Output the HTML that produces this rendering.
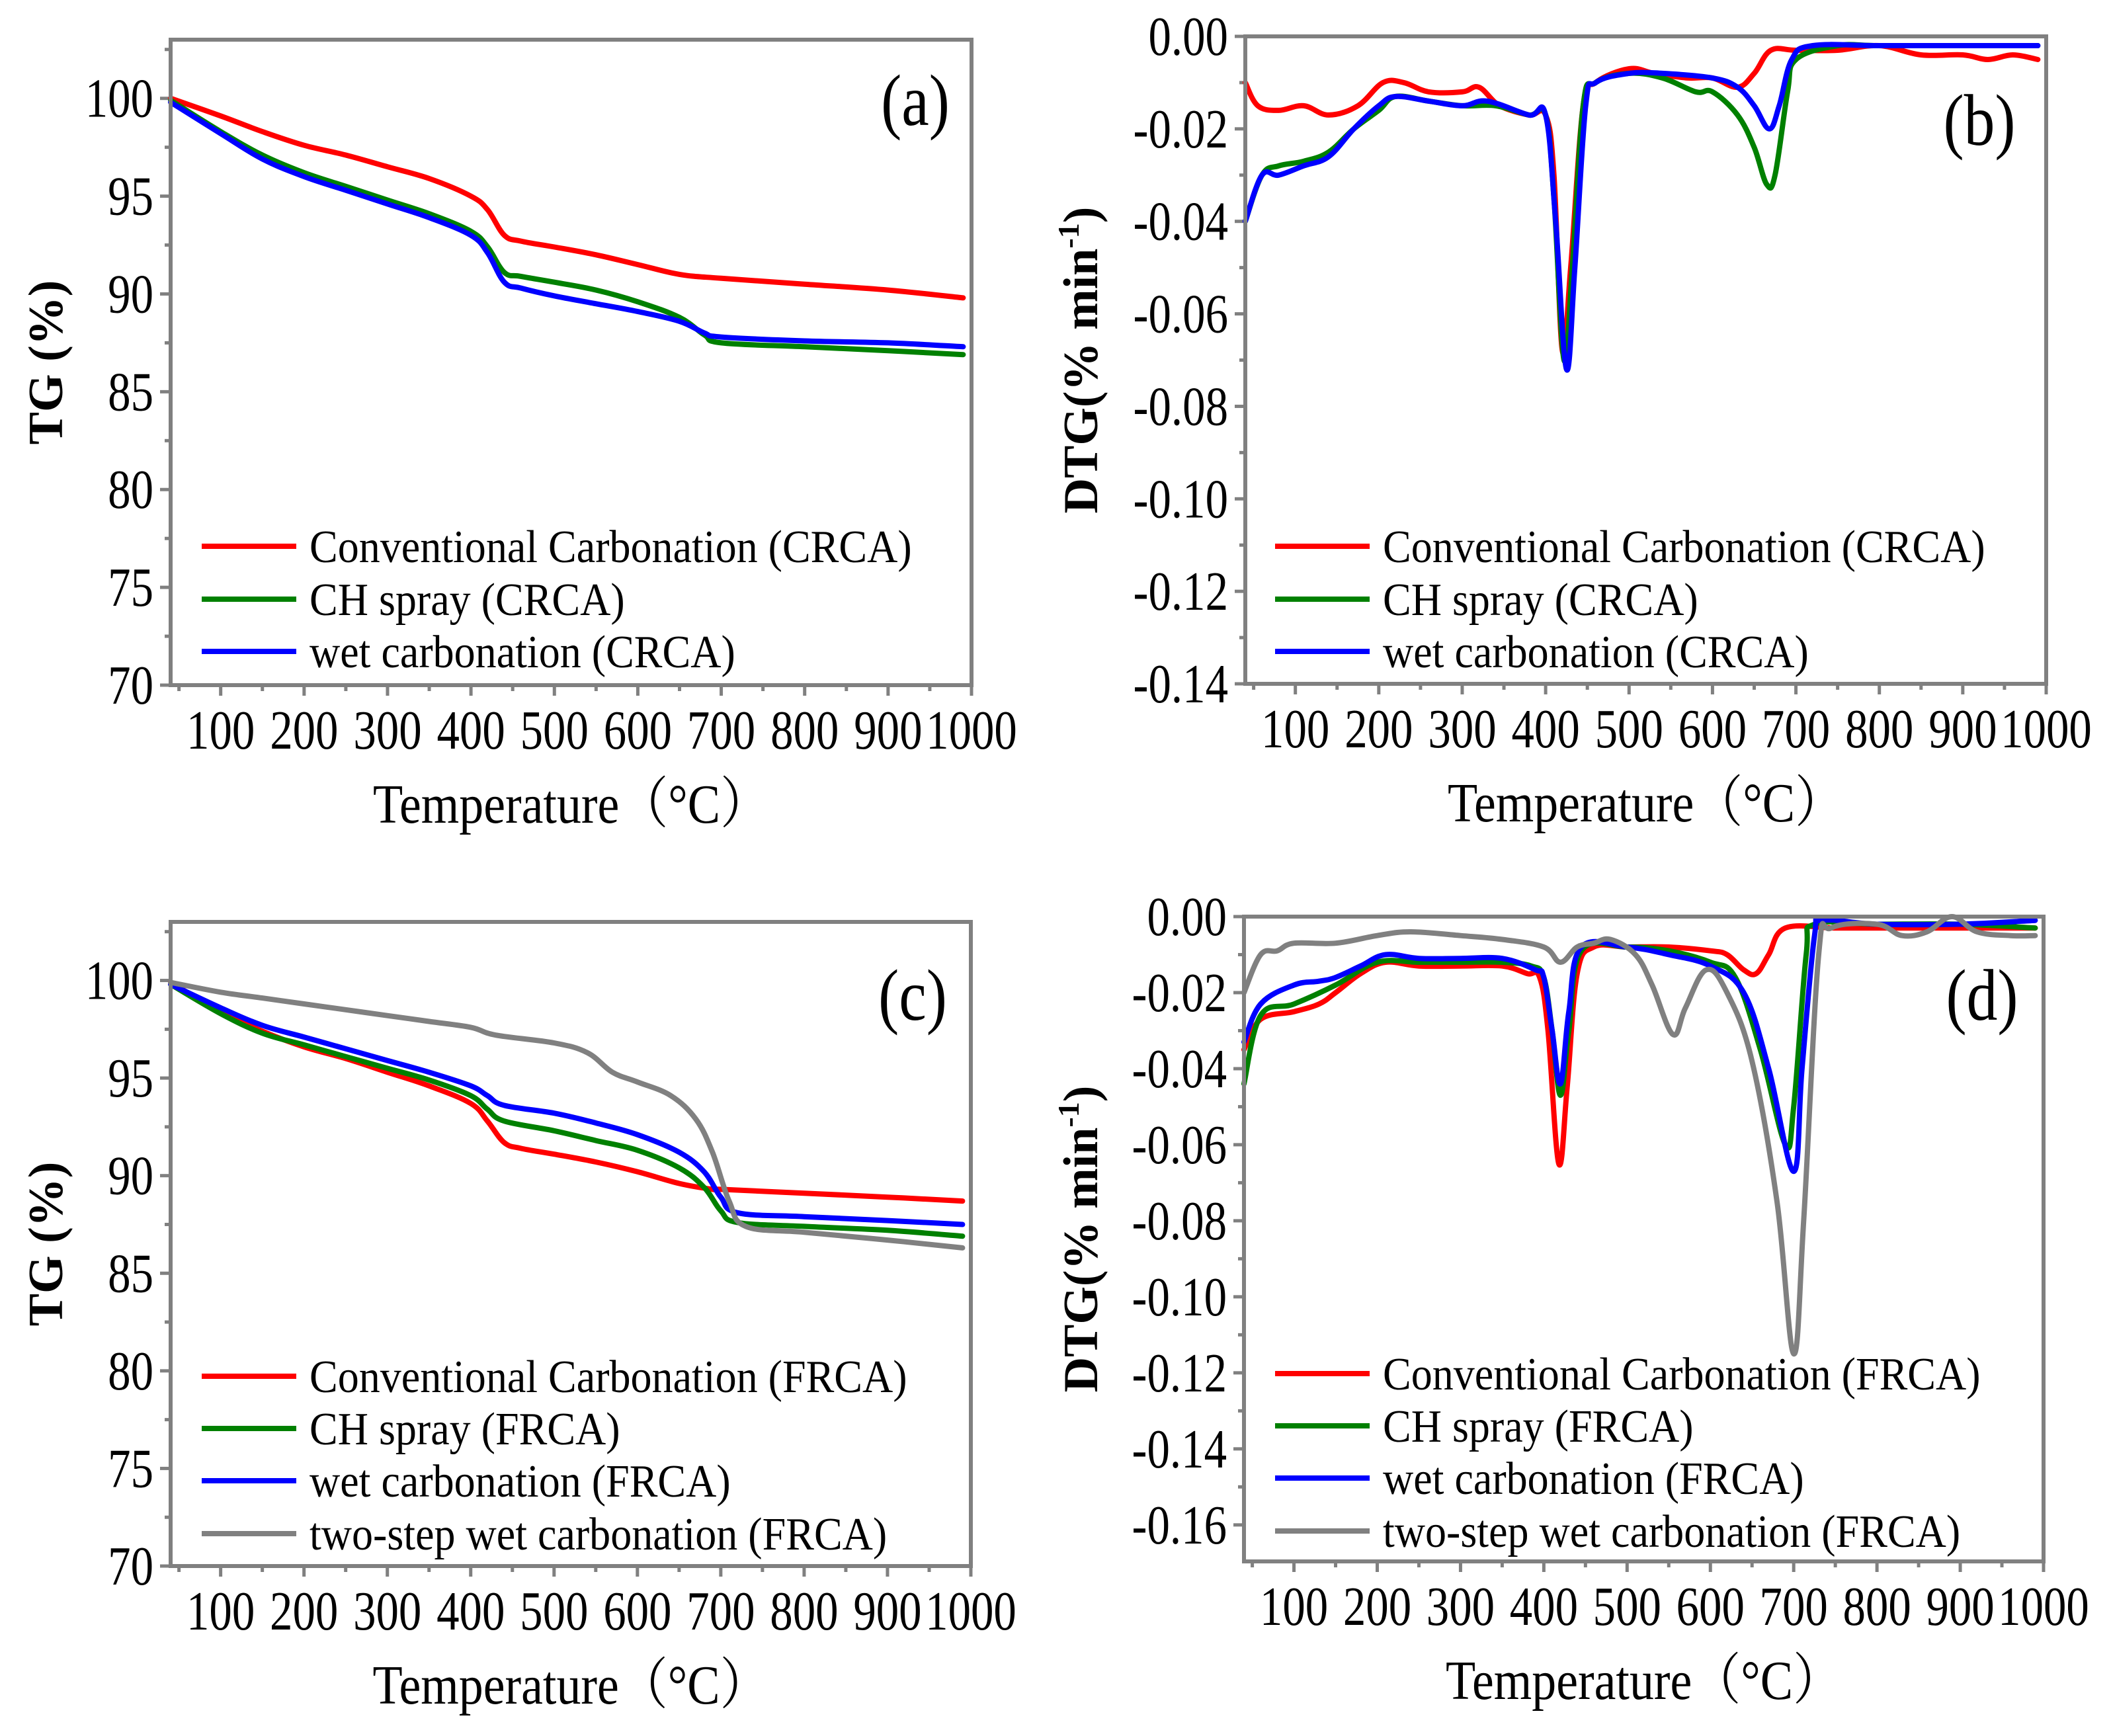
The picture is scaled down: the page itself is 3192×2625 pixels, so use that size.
<!DOCTYPE html>
<html><head><meta charset="utf-8">
<style>
html,body{margin:0;padding:0;background:#fff;}
svg{display:block;font-family:"Liberation Serif","Noto Serif CJK SC",serif;}
</style></head>
<body>
<svg id="fig" width="3192" height="2625" viewBox="0 0 3192 2625" xmlns="http://www.w3.org/2000/svg"></svg>
<script>
// ---- data (temperature °C, value) ----
const aConvT=[40,100,150,200,250,300,350,400,420,440,460,500,550,600,650,700,800,900,990];
const aConvV=[100,99.1,98.3,97.6,97.1,96.5,95.9,95.0,94.3,93.0,92.7,92.4,92.0,91.5,91.0,90.8,90.5,90.2,89.8];
const aCHT=[40,100,150,200,250,300,350,400,420,440,460,500,550,600,650,680,700,800,900,990];
const aCHV=[99.9,98.3,97.1,96.2,95.5,94.8,94.1,93.2,92.4,91.1,90.9,90.6,90.2,89.6,88.8,87.9,87.5,87.3,87.1,86.9];
const aWetT=[40,100,150,200,250,300,350,400,420,440,460,500,550,600,650,680,700,800,900,990];
const aWetV=[99.8,98.2,96.9,96.0,95.3,94.6,93.9,93.0,92.1,90.6,90.3,89.9,89.5,89.1,88.6,88.0,87.8,87.6,87.5,87.3];

const cConvT=[40,100,150,200,250,300,350,400,420,440,460,500,550,600,650,690,700,800,900,990];
const cConvV=[99.9,98.4,97.4,96.6,96.0,95.3,94.6,93.7,92.8,91.7,91.4,91.1,90.7,90.2,89.6,89.3,89.3,89.1,88.9,88.7];
const cCHT=[40,100,150,200,250,300,350,400,420,440,500,550,600,650,680,700,720,800,900,990];
const cCHV=[99.8,98.3,97.3,96.7,96.1,95.5,94.9,94.1,93.4,92.8,92.3,91.8,91.3,90.4,89.4,88.2,87.6,87.4,87.2,86.9];
const cWetT=[40,100,150,200,250,300,350,400,420,440,500,550,600,650,680,700,720,800,900,990];
const cWetV=[99.8,98.6,97.7,97.1,96.5,95.9,95.3,94.6,94.1,93.6,93.2,92.7,92.1,91.2,90.2,88.9,88.1,87.9,87.7,87.5];
const cTwoT=[40,100,150,200,250,300,350,400,430,500,540,570,600,640,670,690,710,730,800,900,990];
const cTwoV=[99.9,99.4,99.1,98.8,98.5,98.2,97.9,97.6,97.2,96.8,96.3,95.3,94.8,94.1,92.9,91.2,88.7,87.4,87.1,86.7,86.3];

const bConvT=[40,55,80,110,140,175,205,230,260,300,320,345,380,400,410,420,430,445,460,500,530,570,600,630,650,670,700,750,800,850,900,930,960,990];
const bConvV=[-0.010,-0.015,-0.016,-0.015,-0.017,-0.015,-0.010,-0.010,-0.012,-0.012,-0.011,-0.015,-0.017,-0.017,-0.030,-0.068,-0.050,-0.015,-0.010,-0.007,-0.008,-0.009,-0.009,-0.011,-0.008,-0.003,-0.003,-0.003,-0.002,-0.004,-0.004,-0.005,-0.004,-0.005];
const bCHT=[40,60,80,110,140,170,200,220,260,300,340,380,400,410,422,432,445,460,500,540,580,600,630,650,665,675,690,700,750,800,900,990];
const bCHV=[-0.040,-0.030,-0.028,-0.027,-0.025,-0.020,-0.016,-0.013,-0.014,-0.015,-0.015,-0.017,-0.017,-0.035,-0.070,-0.050,-0.015,-0.010,-0.008,-0.009,-0.012,-0.012,-0.017,-0.024,-0.032,-0.030,-0.012,-0.005,-0.002,-0.002,-0.002,-0.002];
const bWetT=[40,60,80,110,140,170,200,220,260,300,330,380,400,412,425,435,448,460,500,540,600,630,650,668,680,695,720,800,900,990];
const bWetV=[-0.040,-0.030,-0.030,-0.028,-0.026,-0.020,-0.015,-0.013,-0.014,-0.015,-0.014,-0.017,-0.017,-0.040,-0.072,-0.050,-0.015,-0.010,-0.008,-0.008,-0.009,-0.011,-0.015,-0.020,-0.015,-0.005,-0.002,-0.002,-0.002,-0.002];

const dConvT=[40,60,100,130,150,180,210,250,300,350,380,395,405,418,428,440,460,500,550,600,620,640,655,670,690,750,800,900,990];
const dConvV=[-0.035,-0.027,-0.025,-0.023,-0.020,-0.015,-0.012,-0.013,-0.013,-0.013,-0.015,-0.016,-0.030,-0.065,-0.045,-0.015,-0.008,-0.008,-0.008,-0.009,-0.010,-0.014,-0.015,-0.010,-0.003,-0.003,-0.003,-0.003,-0.003];
const dCHT=[40,60,100,150,200,250,300,350,385,400,410,420,430,445,500,550,600,630,660,690,700,715,725,800,900,990];
const dCHV=[-0.044,-0.026,-0.023,-0.018,-0.012,-0.012,-0.012,-0.012,-0.013,-0.016,-0.030,-0.047,-0.030,-0.009,-0.008,-0.009,-0.012,-0.016,-0.035,-0.060,-0.050,-0.010,-0.002,-0.002,-0.002,-0.003];
const dWetT=[40,60,100,130,150,180,210,250,300,350,390,400,410,420,430,445,500,550,600,640,670,700,710,725,735,800,900,990];
const dWetV=[-0.033,-0.023,-0.018,-0.017,-0.016,-0.013,-0.010,-0.011,-0.011,-0.011,-0.014,-0.016,-0.030,-0.044,-0.025,-0.008,-0.008,-0.010,-0.013,-0.020,-0.040,-0.067,-0.040,-0.005,-0.001,-0.002,-0.002,-0.001];
const dTwoT=[40,60,80,100,150,200,240,300,350,400,420,440,460,480,510,530,555,570,595,620,650,680,700,712,730,745,800,830,860,890,920,960,990];
const dTwoV=[-0.020,-0.010,-0.009,-0.007,-0.007,-0.005,-0.004,-0.005,-0.006,-0.008,-0.012,-0.008,-0.007,-0.006,-0.010,-0.018,-0.031,-0.024,-0.014,-0.020,-0.038,-0.075,-0.115,-0.080,-0.010,-0.003,-0.002,-0.005,-0.004,0.000,-0.004,-0.005,-0.005];

const xTicks=[100,200,300,400,500,600,700,800,900,1000];
const tgTicks=[70,75,80,85,90,95,100];
const bTicks=[0,-0.02,-0.04,-0.06,-0.08,-0.10,-0.12,-0.14];
const dTicks=[0,-0.02,-0.04,-0.06,-0.08,-0.10,-0.12,-0.14,-0.16];

const RED='#ff0000',GREEN='#008000',BLUE='#0000ff',GRAY='#808080';
const svg=document.getElementById('fig');
const NS='http://www.w3.org/2000/svg';
function mk(tag,attrs,parent){const e=document.createElementNS(NS,tag);for(const k in attrs)e.setAttribute(k,attrs[k]);(parent||svg).appendChild(e);return e;}
function smooth(pts){
  let d='M'+pts[0][0].toFixed(1)+','+pts[0][1].toFixed(1);
  for(let i=0;i<pts.length-1;i++){
    const p0=pts[Math.max(0,i-1)],p1=pts[i],p2=pts[i+1],p3=pts[Math.min(pts.length-1,i+2)];
    const t=0.18;
    const c1=[p1[0]+(p2[0]-p0[0])*t,p1[1]+(p2[1]-p0[1])*t];
    const c2=[p2[0]-(p3[0]-p1[0])*t,p2[1]-(p3[1]-p1[1])*t];
    d+=' C'+c1[0].toFixed(1)+','+c1[1].toFixed(1)+' '+c2[0].toFixed(1)+','+c2[1].toFixed(1)+' '+p2[0].toFixed(1)+','+p2[1].toFixed(1);
  }
  return d;
}

const panels=[
 {id:'a',L:258,R:1469,T:60,B:1036,ymin:70,ymax:103,ticks:tgTicks,minor:2.5,fmt:v=>String(v),ylabel:'TG (%)',ylx:70,tag:'(a)',tagx:1384,tagy:153,
  series:[[aConvT,aConvV,RED,'Conventional Carbonation (CRCA)'],[aCHT,aCHV,GREEN,'CH spray (CRCA)'],[aWetT,aWetV,BLUE,'wet carbonation (CRCA)']],
  legX:305,legY:[826,906,985]},
 {id:'b',L:1883,R:3094,T:55,B:1034,ymin:-0.14,ymax:0,ticks:bTicks,minor:0.01,fmt:v=>v===0?'0.00':v.toFixed(2),ylabel:'DTG(% min',ylx:1635,tag:'(b)',tagx:2993,tagy:183,
  series:[[bConvT,bConvV,RED,'Conventional Carbonation (CRCA)'],[bCHT,bCHV,GREEN,'CH spray (CRCA)'],[bWetT,bWetV,BLUE,'wet carbonation (CRCA)']],
  legX:1928,legY:[826,906,985]},
 {id:'c',L:258,R:1468,T:1394,B:2368,ymin:70,ymax:103,ticks:tgTicks,minor:2.5,fmt:v=>String(v),ylabel:'TG (%)',ylx:70,tag:'(c)',tagx:1380,tagy:1506,
  series:[[cConvT,cConvV,RED,'Conventional Carbonation (FRCA)'],[cCHT,cCHV,GREEN,'CH spray (FRCA)'],[cWetT,cWetV,BLUE,'wet carbonation (FRCA)'],[cTwoT,cTwoV,GRAY,'two-step wet carbonation (FRCA)']],
  legX:305,legY:[2081,2160,2239,2319]},
 {id:'d',L:1881,R:3090,T:1386,B:2361,ymin:-0.1696,ymax:0,ticks:dTicks,minor:0.01,fmt:v=>v===0?'0.00':v.toFixed(2),ylabel:'DTG(% min',ylx:1635,tag:'(d)',tagx:2997,tagy:1506,
  series:[[dConvT,dConvV,RED,'Conventional Carbonation (FRCA)'],[dCHT,dCHV,GREEN,'CH spray (FRCA)'],[dWetT,dWetV,BLUE,'wet carbonation (FRCA)'],[dTwoT,dTwoV,GRAY,'two-step wet carbonation (FRCA)']],
  legX:1928,legY:[2077,2156,2235,2315]}
];

panels.forEach(p=>{
  const g=mk('g',{});
  
  
  const X=t=>p.L+(t-40)/(1000-40)*(p.R-p.L);
  const Y=v=>p.B-(v-p.ymin)/(p.ymax-p.ymin)*(p.B-p.T);
  const tg=mk('g',{stroke:'#808080','stroke-width':5},g);
  
  
  xTicks.forEach(t=>{mk('line',{x1:X(t),x2:X(t),y1:p.B,y2:p.B+16},tg);
    const m=t-50; if(m>=40) mk('line',{x1:X(m),x2:X(m),y1:p.B,y2:p.B+9},tg);});
  p.ticks.forEach(v=>{mk('line',{x1:p.L-16,x2:p.L,y1:Y(v),y2:Y(v)},tg);
    const m=v+p.minor; if(m<=p.ymax) mk('line',{x1:p.L-9,x2:p.L,y1:Y(m),y2:Y(m)},tg);});
  xTicks.forEach(t=>{const e=mk('text',{x:0,y:0,'font-size':84,'text-anchor':'middle',fill:'#000',transform:`translate(${X(t)},${p.B+96}) scale(0.82,1)`},g);e.textContent=String(t);
    });
  p.ticks.forEach(v=>{const e=mk('text',{x:0,y:0,'font-size':84,'text-anchor':'end',fill:'#000',transform:`translate(${p.L-26},${Y(v)+28}) scale(0.82,1)`},g);e.textContent=p.fmt(v);
    });
  const xt=mk('text',{x:0,y:0,'font-size':84,'text-anchor':'middle',fill:'#000',transform:`translate(${(p.L+p.R)/2},${p.B+208}) scale(0.88,1)`},g);
  xt.textContent='Temperature（°C）';
  
  
  const cy=(p.T+p.B)/2;
  const yt=mk('text',{x:0,y:0,'font-size':74,'font-weight':'bold','text-anchor':'middle',fill:'#000',transform:`translate(${p.ylx+24},${cy}) rotate(-90)`},g);
  
  
  if(p.ylabel.startsWith('DTG')){yt.textContent='DTG(% min';const s=mk('tspan',{dy:-28,'font-size':46},yt);s.textContent='-1';const s2=mk('tspan',{dy:28},yt);s2.textContent=')';}
  else yt.textContent=p.ylabel;
  p.series.forEach((s,i)=>{
    const [T,V,col,name]=s;
    const pts=T.map((t,k)=>[X(t),Y(V[k])]);
    const path=mk('path',{d:smooth(pts),fill:'none',stroke:col,'stroke-width':8,'stroke-linejoin':'round','stroke-linecap':'round'},g);
    
    
    const ly=p.legY[i];
    const ll=mk('line',{x1:p.legX,x2:p.legX+143,y1:ly,y2:ly,stroke:col,'stroke-width':8},g);
    
    
    const lt=mk('text',{x:0,y:0,'font-size':70,fill:'#000',transform:`translate(${p.legX+163},${ly+24}) scale(0.915,1)`},g);
    lt.textContent=name;
    
    
  });
  const fr=mk('rect',{x:p.L,y:p.T,width:p.R-p.L,height:p.B-p.T,fill:'none',stroke:'#808080','stroke-width':6},g);
  
  
  const tag=mk('text',{x:0,y:0,'font-size':110,'text-anchor':'middle',fill:'#000',transform:`translate(${p.tagx},${p.tagy+36}) scale(0.85,1)`},g);
  tag.textContent=p.tag;
  
  
});
</script>
</body></html>
